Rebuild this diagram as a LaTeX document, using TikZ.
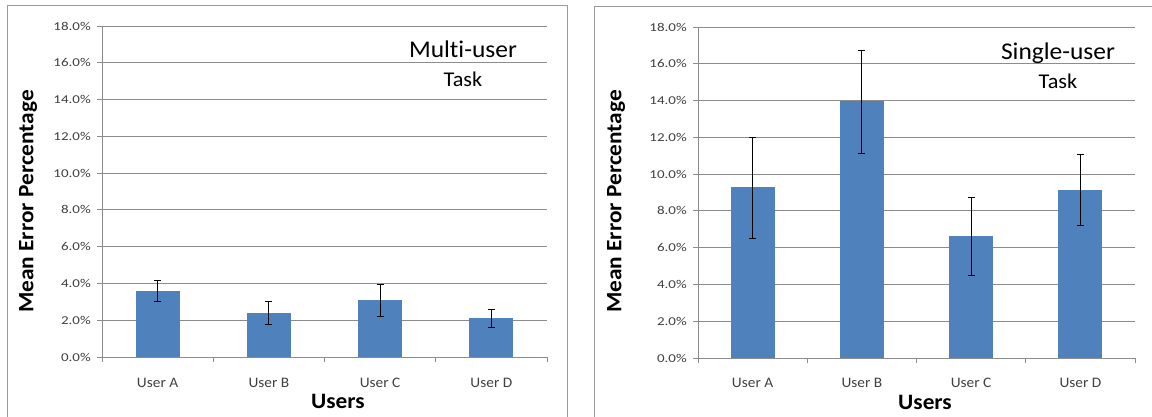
\documentclass[tikz,border=0pt]{standalone}
\usepackage{fontspec}
\setmainfont{Carlito}
\newfontfamily\tickf[FakeStretch=1.25]{Carlito}
\newfontfamily\labf[FakeStretch=1.06,Ligatures=NoCommon]{Carlito}
\definecolor{barblue}{HTML}{4F81BD}
\definecolor{gridgray}{HTML}{8C8C8C}
\definecolor{framegray}{HTML}{9A9A9A}
\definecolor{txtgray}{HTML}{404040}
\tikzset{
  grid line/.style={draw=gridgray, line width=0.9pt},
  bar/.style={fill=barblue, draw=none},
  errbar/.style={draw=black, line width=0.9pt},
  frame/.style={draw=framegray, line width=1pt},
  ticklab/.style={anchor=east, inner sep=0pt, text=txtgray, font=\tickf\fontsize{12}{14}\selectfont},
  catlab/.style={anchor=base, inner sep=0pt, text=txtgray, font=\labf\fontsize{14.5}{16}\selectfont},
  axtitle/.style={inner sep=0pt, font=\labf\bfseries\fontsize{22}{26}\selectfont},
  bigtitle/.style={anchor=base, inner sep=0pt, font=\labf\fontsize{24}{28}\selectfont},
  subtitle/.style={anchor=base, inner sep=0pt, font=\labf\fontsize{21}{24}\selectfont},
}
\newcommand{\drawpanel}[2]{% #1 category width, #2 list of value/upper/lower
  \foreach \g in {0,2,...,18}{
    \draw[grid line] (-5,\g) -- (4*#1,\g);
    \node[ticklab] at (-11,\g) {\g.0\%};
  }
  \draw[grid line] (0,0) -- (0,18);
  \foreach \k in {0,...,4}{
    \draw[grid line] (\k*#1,0) -- ++(0,-0.28);
  }
  \foreach \v/\hi/\lo [count=\i] in {#2}{
    \pgfmathsetmacro{\cx}{(\i-0.5)*#1}
    \fill[bar] (\cx-22,0) rectangle (\cx+22,\v);
    \draw[errbar] (\cx,\lo) -- (\cx,\hi);
    \draw[errbar] (\cx-3.5,\lo) -- (\cx+3.5,\lo);
    \draw[errbar] (\cx-3.5,\hi) -- (\cx+3.5,\hi);
  }
}
\begin{document}
\begin{tikzpicture}[x=1pt,y=1pt]
\useasboundingbox (0,0) rectangle (1152,416);
\clip (0,0) rectangle (1152,416);
\fill[white] (0,0) rectangle (1152,416);
% frames
\draw[frame] (7,-10) -- (7,410) -- (567,410) -- (567,-10);
\draw[frame] (594,-10) -- (594,409) -- (1160,409);
% left panel
\begin{scope}[shift={(102,59)}, y=18.39pt]
  \drawpanel{111.25}{3.6/4.18/3.04, 2.39/3.04/1.79, 3.1/3.97/2.23, 2.12/2.6/1.63}
\end{scope}
\node[catlab] (la) at (157.6,29) {User A};
\node[catlab] (lb) at (268.9,29) {User B};
\node[catlab] (lc) at (380.1,29) {User C};
\node[catlab] (ld) at (491.4,29) {User D};
\node[axtitle, anchor=base] (lx) at (338,8) {Users};
\node[axtitle, rotate=90] (ly) at (28,214.5) {Mean Error Percentage};
\node[bigtitle] (lt1) at (463,358) {Multi-user};
\node[subtitle] (lt2) at (463,329) {Task};
% right panel
\begin{scope}[shift={(698,58)}, y=18.39pt]
  \drawpanel{109.25}{9.29/12.0/6.5, 14.0/16.7/11.15, 6.63/8.75/4.5, 9.13/11.08/7.23}
\end{scope}
\node[catlab] (ra) at (752.6,29) {User A};
\node[catlab] (rb) at (861.9,29) {User B};
\node[catlab] (rc) at (971.1,29) {User C};
\node[catlab] (rd) at (1080.4,29) {User D};
\node[axtitle, anchor=base] (rx) at (925,7) {Users};
\node[axtitle, rotate=90] (ry) at (616,214.5) {Mean Error Percentage};
\node[bigtitle] (rt1) at (1058,356) {Single-user};
\node[subtitle] (rt2) at (1058,327) {Task};
\end{tikzpicture}
\end{document}
